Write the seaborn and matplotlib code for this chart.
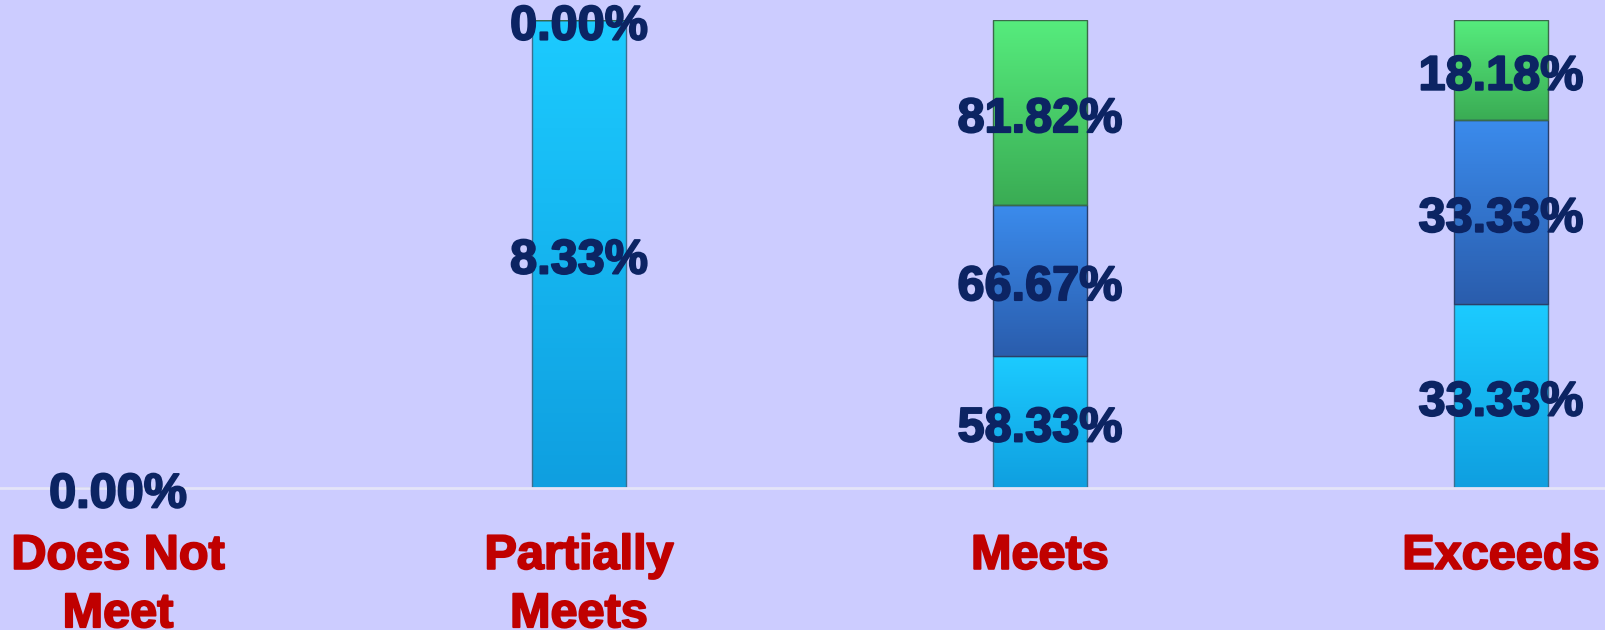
import numpy as np
import pandas as pd
import matplotlib
matplotlib.use("Agg")
import matplotlib.pyplot as plt
import matplotlib.patheffects as pe
import seaborn as sns
from matplotlib.colors import LinearSegmentedColormap

# performance levels and the three stacked series (percent values shown as labels)
categories = ["Does Not\nMeet", "Partially\nMeets", "Meets", "Exceeds"]
seg_low = [0.00, 8.33, 58.33, 33.33]          # light blue
seg_mid = [np.nan, 0.00, 66.67, 33.33]        # blue
seg_top = [np.nan, np.nan, 81.82, 18.18]      # green

# (top colour, bottom colour) for the gradient of each series
series_colors = [("#1ccbff", "#0f9fe0"), ("#3b8bec", "#2a5dad"), ("#56ec7d", "#3aac54")]
edge_colors = ["#3a6f8f", "#2a3f6a", "#3a6a4a"]

BG = "#ccccff"
VAL_COLOR = "#0c2463"
CAT_COLOR = "#c00000"

sns.set_theme(style="white")
plt.rcParams["font.family"] = ["Liberation Sans", "DejaVu Sans"]

series = [seg_low, seg_mid, seg_top]
vals = np.array(series, dtype=float)
totals = np.nansum(vals, axis=0)
shares = np.where(totals > 0, np.nan_to_num(vals) / np.where(totals > 0, totals, 1), 0.0)

fig = plt.figure(figsize=(16.06, 6.3), dpi=100, facecolor=BG)
ax = fig.add_axes([0, 0.2254, 1, 0.968 - 0.2254])
ax.set_facecolor(BG)

bottoms = np.zeros(len(categories))
for k, sh in enumerate(shares):
    n_before = len(ax.patches)
    df = pd.DataFrame({"level": categories, "share": sh})
    sns.barplot(data=df, x="level", y="share", order=categories, color=series_colors[k][1],
                saturation=1, width=0.204, bottom=bottoms.copy(), errorbar=None,
                edgecolor=edge_colors[k], linewidth=1.0, ax=ax)
    cmap = LinearSegmentedColormap.from_list(f"g{k}", [series_colors[k][1], series_colors[k][0]])
    for p in ax.patches[n_before:]:
        h = p.get_height()
        if h <= 0:
            continue
        x0, y0, w = p.get_x(), p.get_y(), p.get_width()
        grad = np.linspace(0, 1, 100).reshape(-1, 1)
        im = ax.imshow(grad, extent=[x0, x0 + w, y0, y0 + h], origin="lower", cmap=cmap,
                       aspect="auto", zorder=p.get_zorder() - 0.1)
        im.set_clip_path(p)
        p.set_facecolor("none")
    # value labels centred in each segment
    for i, v in enumerate(series[k]):
        if np.isnan(v):
            continue
        ax.annotate(f"{v:.2f}%", (i, bottoms[i] + sh[i] / 2), xytext=(0, -5),
                    textcoords="offset points", ha="center", va="center",
                    fontsize=35, fontweight="bold", color=VAL_COLOR, zorder=5,
                    path_effects=[pe.withStroke(linewidth=1.4, foreground=VAL_COLOR)])
    bottoms = bottoms + sh

ax.set_xlim(-0.256, 3.228)
ax.set_ylim(0, 1)
ax.set_xlabel("")
ax.set_ylabel("")
ax.set_yticks([])
for s in ["top", "left", "right"]:
    ax.spines[s].set_visible(False)
ax.spines["bottom"].set_color("#e4e4f8")
ax.spines["bottom"].set_linewidth(2)
ax.tick_params(axis="x", length=0, pad=33)
for lab in ax.get_xticklabels():
    lab.set_fontsize(35)
    lab.set_fontweight("bold")
    lab.set_color(CAT_COLOR)
    lab.set_linespacing(1.38)
    lab.set_verticalalignment("top")
    lab.set_path_effects([pe.withStroke(linewidth=1.4, foreground=CAT_COLOR)])

fig.savefig("out.png", dpi=100, facecolor=BG)
